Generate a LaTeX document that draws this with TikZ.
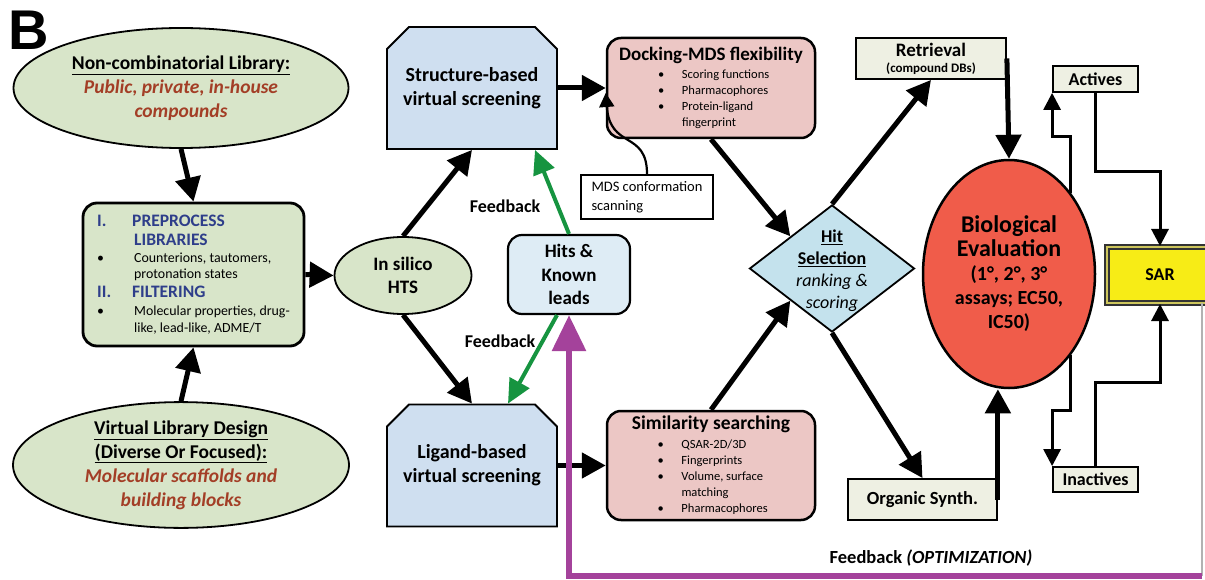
\documentclass[tikz,border=0pt]{standalone}
\usepackage{fontspec}
\setmainfont{Carlito}
\newfontfamily\panelfont{Liberation Sans}
\usepackage{xcolor}
\usetikzlibrary{calc}
\usetikzlibrary{positioning,arrows.meta}
\usetikzlibrary{shapes,shapes.geometric,shapes.misc}
\definecolor{libgreen}{RGB}{216,229,201}
\definecolor{vsblue}{RGB}{207,223,240}
\definecolor{hitblue}{RGB}{222,236,245}
\definecolor{dockpink}{RGB}{236,199,197}
\definecolor{selblue}{RGB}{196,226,237}
\definecolor{synthgray}{RGB}{238,240,227}
\definecolor{biored}{RGB}{240,92,74}
\definecolor{saryellow}{RGB}{247,236,22}
\definecolor{cmpdbrown}{RGB}{163,62,38}
\definecolor{stepblue}{RGB}{46,62,138}
\definecolor{fbgreen}{RGB}{22,148,64}
\definecolor{optpurple}{RGB}{164,66,155}
\newcommand{\compound}[1]{{\color{cmpdbrown}\bfseries\itshape #1}}
\newcommand{\stephead}[1]{{\color{stepblue}\fontsize{17.5}{18}\selectfont\bfseries #1}}
\newcommand{\bitem}[2][24pt]{\makebox[#1][l]{\textbullet}#2}
\tikzset{
  libell/.style={ellipse, draw, line width=1.8pt, fill=libgreen, inner sep=0pt, align=center, font=\fontsize{19.5}{24}\selectfont},
  vsbox/.style={chamfered rectangle, chamfered rectangle corners={north west,north east}, chamfered rectangle xsep=11pt, chamfered rectangle ysep=11pt, draw, line width=1.8pt, fill=vsblue, inner sep=0pt, minimum width=170, minimum height=122, align=center, font=\fontsize{20}{24}\selectfont\bfseries},
  rbox/.style={rectangle, rounded corners=14pt, draw, line width=2.5pt, inner sep=0pt},
  smallbox/.style={rectangle, draw, line width=1.8pt, fill=synthgray, inner sep=0pt, align=center},
  bigarrow/.style={line width=5pt, -{Triangle[width=25pt,length=24pt]}},
  thinarrow/.style={line width=3pt, -{Triangle[width=17pt,length=17pt]}},
  fbarrow/.style={line width=4pt, fbgreen, -{Triangle[width=22pt,length=24pt]}},
  lbl/.style={font=\fontsize{18}{22}\selectfont\bfseries}
}
\begin{document}
\begin{tikzpicture}[x=1pt,y=-1pt]
    \useasboundingbox (0,0) rectangle (1205,580);
    \clip (0,0) rectangle (1205,580);
    \node[font=\panelfont\bfseries\fontsize{56}{60}\selectfont] (panel) at (29,30) {B};

    \node[libell, minimum width=335, minimum height=120] (noncomb) at (181,88)
    {\bfseries\underline{Non-combinatorial Library:}\\ \compound{Public, private, in-house}\\ \compound{compounds}};
    \node[libell, minimum width=336, minimum height=120] (virtual) at (181,465)
    {\bfseries\underline{Virtual Library Design}\\ \bfseries\underline{(Diverse Or Focused):}\\ \compound{Molecular scaffolds and}\\ \compound{building blocks}};
    \node[rbox, line width=2.8pt, fill=libgreen, minimum width=221, minimum height=143, align=left, font=\fontsize{13.9}{16.5}\selectfont] (prep) at (193.5,274.5)
    {\stephead{\makebox[35pt][l]{I.}PREPROCESS}\\[3pt]
     \stephead{\hspace*{37pt}LIBRARIES}\\
     \bitem[37pt]{Counterions, tautomers,}\\
     \hspace*{37pt}protonation states\\[2pt]
     \stephead{\makebox[35pt][l]{II.}FILTERING}\\[2pt]
     \bitem[37pt]{Molecular properties, drug-}\\
     \hspace*{37pt}like, lead-like, ADME/T};
    \node[libell, minimum width=137, minimum height=77, font=\fontsize{19}{23}\selectfont\bfseries] (insilico) at (403,275.5) {In silico\\HTS};

           \draw[bigarrow] (noncomb.south) -- (prep.north);
           \draw[bigarrow] (virtual.north) -- (prep.south);
           \draw[bigarrow] (prep.east) -- (insilico.west);

    \node[vsbox] (struct) at (472,88) {Structure-based\\virtual screening};
    \node[vsbox] (lig) at (472,465.5) {Ligand-based\\virtual screening};
    \draw[bigarrow] (insilico.north) -- (struct.south);
    \draw[bigarrow] (insilico.south) -- (lig.north);

    \node[rbox, line width=2.2pt, fill=hitblue, minimum width=122, minimum height=79, align=center, font=\fontsize{19}{23.5}\selectfont\bfseries] (hits) at (569,274.5) {Hits \&\\Known\\leads};
    \draw[fbarrow] (hits.north) -- ([xshift=63pt]struct.south);
    \draw[fbarrow] ([xshift=-12pt]hits.south) -- ([xshift=36pt]lig.north);
    \node[lbl] (fbup) at (505,206) {Feedback};
    \node[lbl] (fbdown) at (500,341) {Feedback};

    \node[rbox, fill=dockpink, minimum width=208, minimum height=100, align=left, font=\fontsize{12.5}{16}\selectfont] (dock) at (711,88)
    {\makebox[184pt]{\fontsize{19}{20}\selectfont\bfseries Docking-MDS flexibility}\\[2pt]
     \hspace*{39pt}\bitem{Scoring functions}\\
     \hspace*{39pt}\bitem{Pharmacophores}\\
     \hspace*{39pt}\bitem{Protein-ligand}\\
     \hspace*{63pt}fingerprint};
    \node[rbox, fill=dockpink, minimum width=208, minimum height=109, align=left, font=\fontsize{12.5}{16.2}\selectfont] (sim) at (711,465.5)
    {\makebox[163pt]{\fontsize{19.5}{20}\selectfont\bfseries Similarity searching}\\[2pt]
     \hspace*{28pt}\bitem{QSAR-2D/3D}\\
     \hspace*{28pt}\bitem{Fingerprints}\\
     \hspace*{28pt}\bitem{Volume, surface}\\
     \hspace*{52pt}matching\\
     \hspace*{28pt}\bitem{Pharmacophores}};
    \node[draw, line width=2pt, fill=white, inner sep=0pt, minimum width=132, minimum height=44, align=left, font=\fontsize{14.5}{19}\selectfont] (mds) at (647,197) {MDS conformation\\scanning};
    \draw[bigarrow] (struct.east) -- (dock.west);
    \draw[bigarrow] (lig.east) -- (sim.west);
    \draw[line width=2.2pt, -{Triangle[width=15pt,length=14pt]}] (mds.north) .. controls (647,130) and (610,150) .. ([yshift=-5pt]dock.west);

    \node[diamond, draw, line width=1.8pt, fill=selblue, minimum width=165, minimum height=127, inner sep=0pt] (sel) at (832,268.5) {};
    \node[align=center, font=\fontsize{18}{22}\selectfont] (seltxt) at (832,271)
    {\textbf{\underline{Hit}}\\ \textbf{\underline{Selection}}\\ \textit{ranking \&}\\ \textit{scoring}};
    \draw[bigarrow] (dock.south) -- (sel.north west);
    \draw[bigarrow] (sim.north) -- (sel.south west);

    \node[smallbox, minimum width=150, minimum height=41] (retrieval) at (931,58.5)
    {{\fontsize{19}{21}\selectfont\bfseries Retrieval}\\[4pt] {\fontsize{13}{14}\selectfont\bfseries (compound DBs)}};
    \node[smallbox, minimum width=149, minimum height=41, font=\fontsize{18.5}{22}\selectfont\bfseries] (organic) at (922.5,499.5) {Organic Synth.};
    \node[ellipse, draw, line width=2.5pt, fill=biored, inner sep=0pt, minimum width=172, minimum height=228, align=center, font=\fontsize{20}{24}\selectfont\bfseries] (bio) at (1009,274)
    {{\fontsize{24}{28}\selectfont Biological}\\ {\fontsize{24}{28}\selectfont Evaluation}\\ (1°, 2°, 3°\\ assays; EC50,\\ IC50)};
    \draw[bigarrow] (sel.north) -- (retrieval.south);
    \draw[bigarrow] (sel.south) -- (organic.north);
    \draw[bigarrow] (retrieval.east) -- (bio.north);
    \draw[bigarrow] (organic.east) -- (organic.east |- bio.south);

    \node[smallbox, minimum width=85, minimum height=26, font=\fontsize{18}{22}\selectfont\bfseries] (actives) at (1095.5,79) {Actives};
    \node[smallbox, minimum width=85, minimum height=25, font=\fontsize{18}{22}\selectfont\bfseries] (inactives) at (1095.5,479.5) {Inactives};
    \node[draw=black!80, double=yellow!55!gray, double distance=2pt, line width=2pt, fill=saryellow, inner sep=0pt, minimum width=106, minimum height=56, font=\fontsize{18}{22}\selectfont\bfseries] (sar) at (1160,275) {SAR};
    \draw[thinarrow] (bio.north east) -- ++(0,-56) -| (actives.south west);
    \draw[thinarrow] (actives.south) -- ++(0,79) -| (sar.north);
    \draw[thinarrow] (bio.south east) -- ++(0,55) -| (inactives.north west);
    \draw[thinarrow] (inactives.north) -- ++(0,-84) -| (sar.south);

    \coordinate (fbedge) at (1202,303);
    \coordinate (fbcorner) at (1202,576);
    \draw[black!30, line width=1.2pt] (fbedge) -- (fbcorner);
    \draw[line width=6pt, optpurple, -{Triangle[width=33pt,length=36pt]}] (fbcorner) -| (hits.south);
    \node[lbl, font=\fontsize{18.5}{22}\selectfont\bfseries] (fbopt) at (931,558) {Feedback \textit{(OPTIMIZATION)}};
    \end{tikzpicture}
\end{document}
